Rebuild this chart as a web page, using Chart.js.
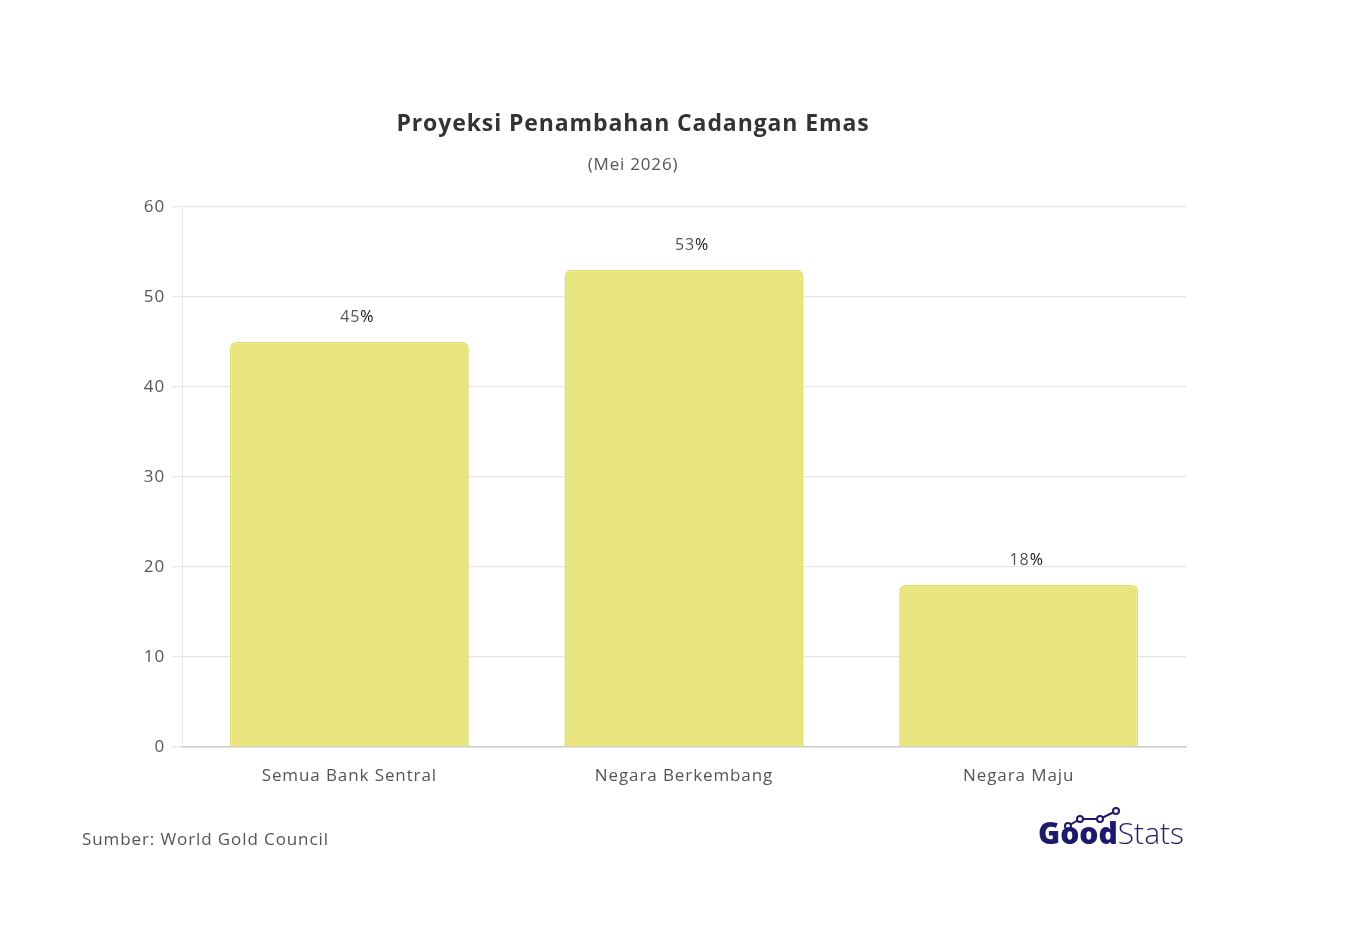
<!DOCTYPE html>
<html>
<head>
<meta charset="utf-8">
<script src="https://cdn.jsdelivr.net/npm/chart.js@4"></script>
<style>
  body { margin: 0; background: #fff; font-family: "Open Sans", sans-serif; }
  #wrap { position: relative; width: 1346px; height: 940px; }
  #title { position: absolute; left: 0; width: 1266px; top: 106px; text-align: center;
           font-size: 23px; font-weight: 700; color: #333; letter-spacing: 0.9px; }
  #subtitle { position: absolute; left: 0; width: 1266px; top: 152px; text-align: center;
              font-size: 17px; color: #555; letter-spacing: 0.8px; }
  #source { position: absolute; left: 82px; top: 827px; font-size: 17px; color: #555; letter-spacing: 0.9px; }
  #logo { position: absolute; left: 1038px; top: 806px; width: 150px; height: 46px; }
  #logo .txt { position: absolute; left: 0; bottom: -1px; font-size: 30px; color: #1c1a6e; letter-spacing: 0px; }
  #logo b { font-weight: 800; }
  #logo span.l { font-weight: 300; }
</style>
</head>
<body>
<div id="wrap">
  <canvas id="chart" width="1346" height="940"></canvas>
  <div id="title">Proyeksi Penambahan Cadangan Emas</div>
  <div id="subtitle">(Mei 2026)</div>
  <div id="source">Sumber: World Gold Council</div>
  <div id="logo">
    <svg width="150" height="46" style="position:absolute;left:0;top:0">
      <polyline points="30,20 42,13 62,13 78,5" fill="none" stroke="#1c1a6e" stroke-width="2"/>
      <circle cx="30" cy="20" r="3" fill="#fff" stroke="#1c1a6e" stroke-width="2"/>
      <circle cx="42" cy="13" r="3" fill="#fff" stroke="#1c1a6e" stroke-width="2"/>
      <circle cx="62" cy="13" r="3" fill="#fff" stroke="#1c1a6e" stroke-width="2"/>
      <circle cx="78" cy="5" r="3" fill="#fff" stroke="#1c1a6e" stroke-width="2"/>
    </svg>
    <div class="txt"><b>Good</b><span class="l">Stats</span></div>
  </div>
</div>
<script>
// chart data
var categories = ['Semua Bank Sentral', 'Negara Berkembang', 'Negara Maju'];
var values = [45, 53, 18];
var yTicks = [0, 10, 20, 30, 40, 50, 60];

// wider spacing to come closer to the geometric font of the original
var spacing = {
    id: 'spacing',
    beforeDraw: function(chart) {
        chart.ctx.letterSpacing = '0.9px';
    }
};

// draws "45%" above each bar
var valueLabels = {
    id: 'valueLabels',
    afterDatasetsDraw: function(chart) {
        var ctx = chart.ctx;
        var meta = chart.getDatasetMeta(0);
        ctx.save();
        ctx.font = '16px "Open Sans"';
        ctx.textBaseline = 'middle';
        meta.data.forEach(function(bar, i) {
            var num = String(values[i]);
            var w1 = ctx.measureText(num).width;
            var w2 = ctx.measureText('%').width;
            var x = bar.x + 8 - (w1 + w2) / 2;
            var y = bar.y - 25;
            ctx.textAlign = 'left';
            ctx.fillStyle = '#555';
            ctx.fillText(num, x, y);
            ctx.fillStyle = '#111';
            ctx.fillText('%', x + w1, y);
        });
        ctx.restore();
    }
};

var ctx = document.getElementById('chart').getContext('2d');
var chart = new Chart(ctx, {
    type: 'bar',
    data: {
        labels: categories,
        datasets: [{
            data: values,
            backgroundColor: 'rgba(233, 229, 120, 0.95)',
            borderColor: '#e2dd6a',
            borderWidth: 1.5,
            borderRadius: 6,
            borderSkipped: 'bottom',
            barPercentage: 0.714,
            categoryPercentage: 1.0
        }]
    },
    options: {
        responsive: false,
        animation: false,
        layout: { padding: { left: 100, right: 160, top: 207, bottom: 143 } },
        plugins: {
            legend: { display: false },
            tooltip: { enabled: false }
        },
        scales: {
            x: {
                afterFit: function(scale) { scale.height = 50; },
                grid: { display: false, drawTicks: false },
                border: { color: '#cccccc', width: 1.5 },
                ticks: { color: '#555', font: { size: 17, family: 'Open Sans' }, padding: 19 }
            },
            y: {
                min: 0,
                max: 60,
                afterFit: function(scale) { scale.width = 82; },
                afterBuildTicks: function(scale) {
                    scale.ticks = yTicks.map(function(v) { return { value: v }; });
                },
                grid: { color: '#e6e6e6', tickLength: 10, lineWidth: 1.2 },
                border: { color: '#e6e6e6' },
                ticks: { color: '#555', font: { size: 17, family: 'Open Sans' }, padding: 7 }
            }
        }
    },
    plugins: [spacing, valueLabels]
});
</script>
</body>
</html>
